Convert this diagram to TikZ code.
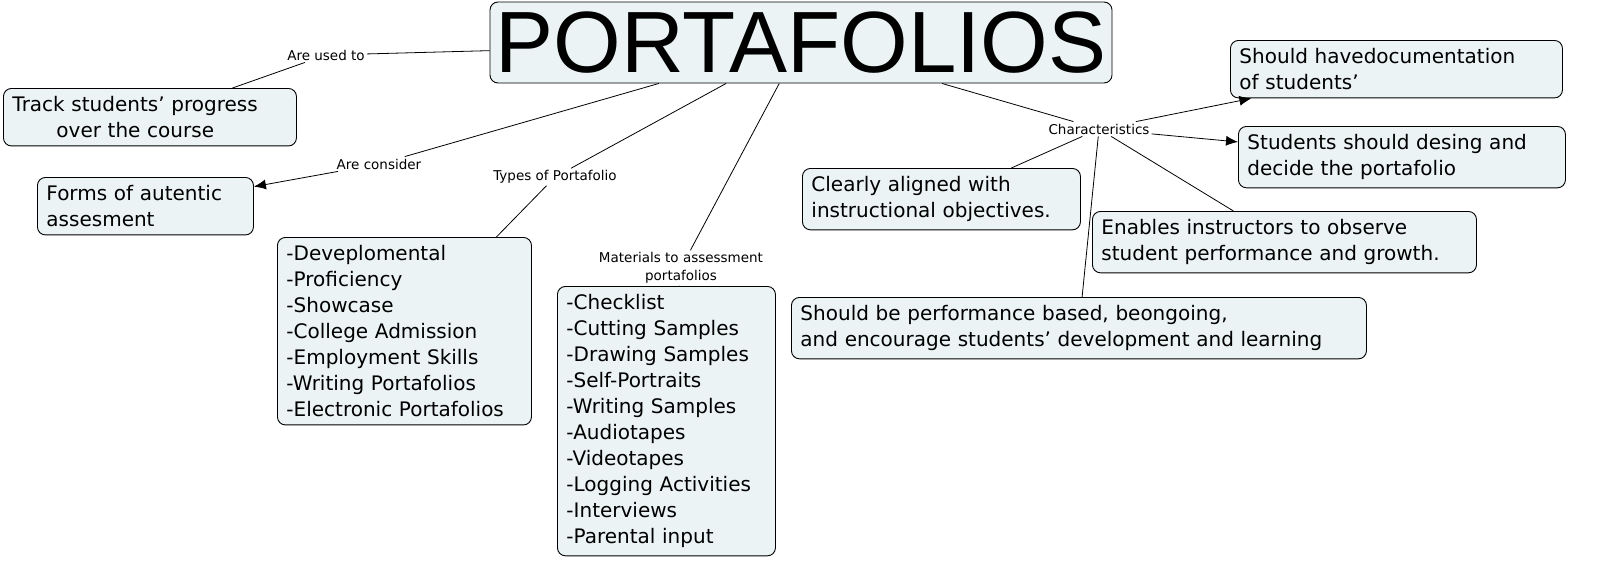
\documentclass[tikz,border=0pt]{standalone}
\usepackage{fontspec}
\setmainfont{DejaVu Sans}
\newfontfamily\titlefont{Liberation Sans}
\usetikzlibrary{arrows.meta}
\definecolor{boxfill}{HTML}{EBF3F4}
\begin{document}
\begin{tikzpicture}[x=1pt,y=-1pt,
  cbox/.style={draw=black,line width=0.9pt,fill=boxfill,rounded corners=8pt,anchor=north west,align=left,inner xsep=9pt,inner ysep=8pt,font=\fontsize{20}{26}\selectfont},
  lbl/.style={inner sep=2pt,font=\fontsize{13.5}{18}\selectfont,align=center},
  link/.style={line width=0.8pt},
  arr/.style={line width=0.8pt,-{Latex[length=12pt,width=10pt]}}]
\fill[white] (0,0) rectangle (1600,576);
\node[draw=black,line width=0.9pt,fill=boxfill,rounded corners=8pt,minimum width=622pt,minimum height=81pt,inner sep=0pt,font=\titlefont\fontsize{87}{87}\selectfont] (port) at (801,42.5) {PORTAFOLIOS};
\node[cbox,text width=275pt] (track) at (3,88) {Track students’ progress\\\hspace*{2.2em}over the course};
\node[cbox,text width=198pt] (forms) at (37,177) {Forms of autentic\\assesment};
\node[cbox,text width=236pt] (types) at (277,237) {-Deveplomental\\-Proficiency\\-Showcase\\-College Admission\\-Employment Skills\\-Writing Portafolios\\-Electronic Portafolios};
\node[cbox,text width=200pt] (mat) at (557,286) {-Checklist\\-Cutting Samples\\-Drawing Samples\\-Self-Portraits\\-Writing Samples\\-Audiotapes\\-Videotapes\\-Logging Activities\\-Interviews\\-Parental input};
\node[cbox,text width=260pt] (clear) at (802,168) {Clearly aligned with\\instructional objectives.};
\node[cbox,text width=314pt] (havedoc) at (1230,40) {Should havedocumentation\\of students’};
\node[cbox,text width=309pt] (design) at (1238,126) {Students should desing and\\decide the portafolio};
\node[cbox,text width=366pt] (enable) at (1092,211) {Enables instructors to observe\\student performance and growth.};
\node[cbox,text width=557pt] (perf) at (791,297) {Should be performance based, beongoing,\\and encourage students’ development and learning};
\node[lbl] (used) at (326,55) {Are used to};
\node[lbl] (consider) at (379,164) {Are consider};
\node[lbl] (typesl) at (555,177) {Types of Portafolio};
\node[lbl] (matl) at (681,268) {Materials to assessment\\portafolios};
\node[lbl] (charl) at (1099,129) {Characteristics};
\draw[link] (port) -- (used);
\draw[link] (used) -- (track);
\draw[link] (port) -- (consider);
\draw[arr] (consider) -- (forms);
\draw[link] (port) -- (typesl);
\draw[link] (typesl) -- (types);
\draw[link] (port) -- (matl);
\draw[link] (matl) -- (mat);
\draw[link] (port) -- (charl);
\draw[arr] (charl) -- (havedoc);
\draw[arr] (charl) -- (design);
\draw[link] (charl) -- (clear);
\draw[link] (charl) -- (enable);
\draw[link] (charl) -- (perf);
\pgfresetboundingbox
\useasboundingbox (0,0) rectangle (1600,576);
\end{tikzpicture}
\end{document}
